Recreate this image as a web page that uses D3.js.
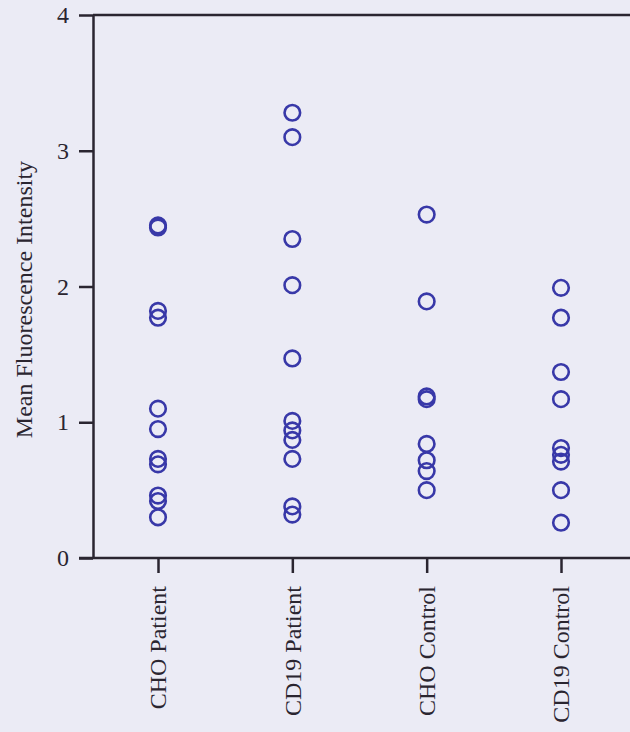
<!DOCTYPE html>
<html>
<head>
<meta charset="utf-8">
<script src="https://cdn.jsdelivr.net/npm/d3@7"></script>
<style>
  html, body { margin: 0; padding: 0; background: #ebebf5; }
  svg { display: block; }
  text { font-family: "Liberation Serif", "Times New Roman", serif; fill: #2a2530; }
</style>
</head>
<body>
<script>
// groups on the x axis
var categories = ['CHO Patient', 'CD19 Patient', 'CHO Control', 'CD19 Control'];

// values, one array per group
var choPatient  = [2.45, 2.435, 1.82, 1.77, 1.10, 0.95, 0.73, 0.69, 0.46, 0.42, 0.30];
var cd19Patient = [3.28, 3.10, 2.35, 2.01, 1.47, 1.01, 0.94, 0.87, 0.73, 0.38, 0.32];
var choControl  = [2.53, 1.89, 1.19, 1.17, 0.84, 0.72, 0.64, 0.50];
var cd19Control = [1.99, 1.77, 1.37, 1.17, 0.81, 0.76, 0.71, 0.50, 0.26];

var yTicks = [0, 1, 2, 3, 4];
var yTitle = 'Mean Fluorescence Intensity';

var series = [choPatient, cd19Patient, choControl, cd19Control];

var w = 630,
    h = 732;
var margin = {top: 15, right: 0, bottom: 174, left: 93};
var innerW = w - margin.left - margin.right,
    innerH = h - margin.top - margin.bottom;

var ink = '#2a2530',
    dotColor = '#3838a8',
    fontSize = '24px';

var svg = d3.select('body').append('svg')
    .attr('width', w)
    .attr('height', h);

var g = svg.append('g')
    .attr('transform', 'translate(' + [margin.left, margin.top] + ')');

var x = d3.scalePoint()
    .domain(categories)
    .range([65, 468]);

var y = d3.scaleLinear()
    .domain([0, 4])
    .range([innerH, 0]);

// top frame line
g.append('line')
    .attr('x1', 0)
    .attr('x2', innerW + 5)
    .attr('y1', y(4))
    .attr('y2', y(4))
    .style('stroke', ink)
    .style('stroke-width', 2.5);

var yAxis = g.append('g')
    .call(d3.axisLeft(y).tickValues(yTicks).tickFormat(d3.format('d'))
        .tickSize(14).tickSizeOuter(0).tickPadding(10));

var xAxis = g.append('g')
    .attr('transform', 'translate(0,' + innerH + ')')
    .call(d3.axisBottom(x).tickSize(15).tickSizeOuter(0));

// bottom axis runs past the y axis to the left like in the figure
xAxis.select('.domain')
    .attr('d', 'M-14,0H' + (innerW + 5));

[yAxis, xAxis].forEach(function (a) {
    a.selectAll('.domain, .tick line')
        .style('stroke', ink)
        .style('stroke-width', 2.5);
    a.selectAll('text')
        .style('font-size', fontSize)
        .style('font-family', '"Liberation Serif", "Times New Roman", serif')
        .style('fill', ink);
});

xAxis.selectAll('.tick text')
    .attr('transform', 'rotate(-90)')
    .attr('text-anchor', 'end')
    .attr('x', -28)
    .attr('y', 0)
    .attr('dy', '0.33em');

// axis title
svg.append('text')
    .attr('transform', 'translate(' + [32, margin.top + y(2.0) + 13] + ') rotate(-90)')
    .attr('text-anchor', 'middle')
    .style('font-size', fontSize)
    .text(yTitle);

// dots
series.forEach(function (vals, i) {
    g.selectAll('.dot' + i)
        .data(vals)
        .enter().append('circle')
        .attr('class', 'dot' + i)
        .attr('cx', x(categories[i]))
        .attr('cy', function (d) { return y(d); })
        .attr('r', 7.8)
        .style('fill', 'none')
        .style('stroke', dotColor)
        .style('stroke-width', 2.6);
});
</script>
</body>
</html>
